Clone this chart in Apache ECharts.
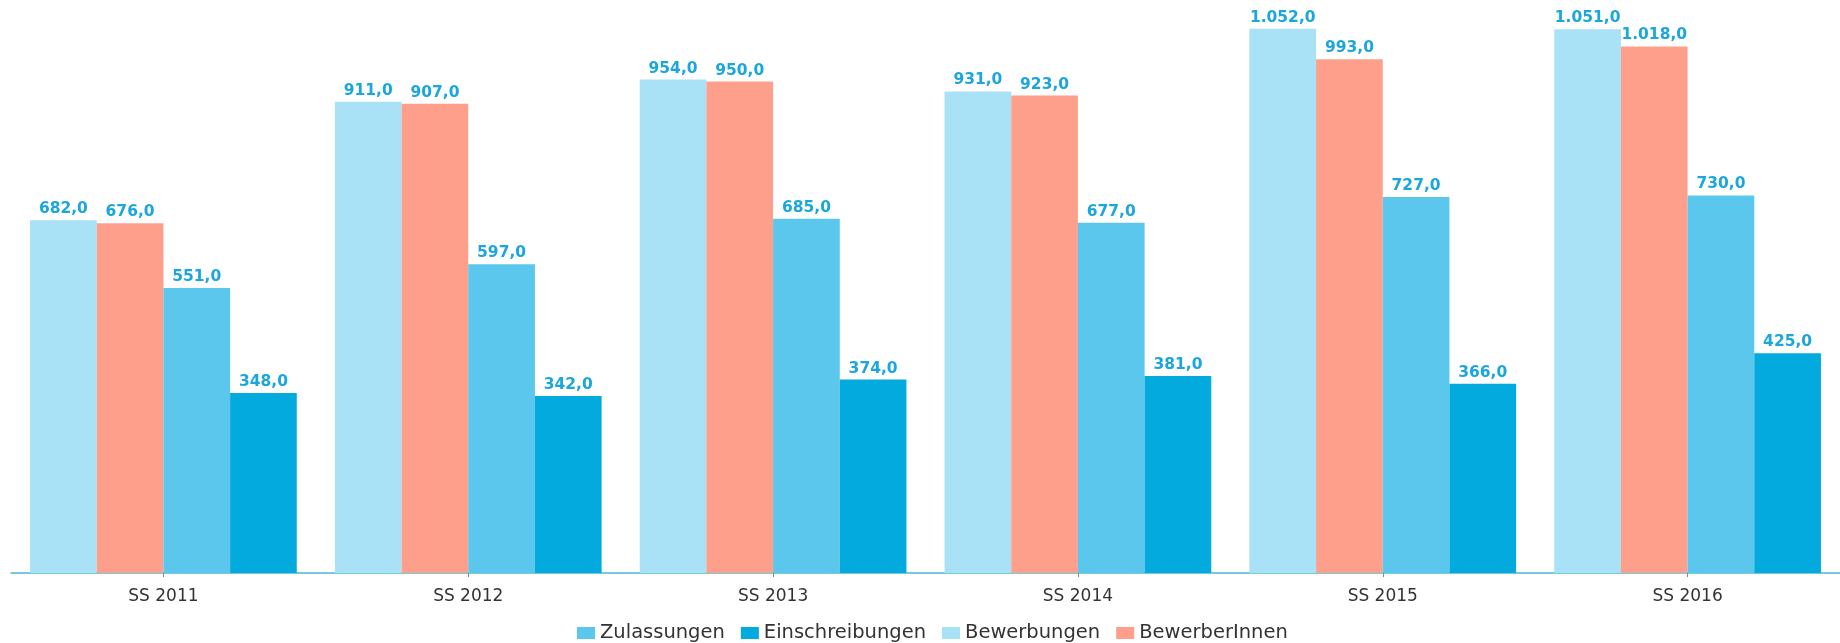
<!DOCTYPE html>
<html>
<head>
<meta charset="utf-8">
<script src="https://cdn.jsdelivr.net/npm/echarts@6/dist/echarts.min.js"></script>
<style>
html,body{margin:0;padding:0;background:#fff;}
#chart{width:1840px;height:643px;}
</style>
</head>
<body>
<div id="chart"></div>
<script>
const categories = ['SS 2011', 'SS 2012', 'SS 2013', 'SS 2014', 'SS 2015', 'SS 2016'];
const bewerbungen = [682, 911, 954, 931, 1052, 1051];
const bewerberInnen = [676, 907, 950, 923, 993, 1018];
const zulassungen = [551, 597, 685, 677, 727, 730];
const einschreibungen = [348, 342, 374, 381, 366, 425];
const legendOrder = ['Zulassungen', 'Einschreibungen', 'Bewerbungen', 'BewerberInnen'];

function fmt(v) {
  const s = Math.round(v).toString();
  const withDots = s.replace(/\B(?=(\d{3})+(?!\d))/g, '.');
  return withDots + ',0';
}

const labelStyle = {
  show: true,
  position: 'top',
  distance: 3,
  color: '#1ba6de',
  fontFamily: 'DejaVu Sans',
  fontWeight: 'bold',
  fontSize: 15.5,
  formatter: p => fmt(p.value)
};

function bar(name, data, color) {
  return {
    name: name,
    type: 'bar',
    data: data,
    barGap: '0%',
    barCategoryGap: '12.5%',
    itemStyle: { color: color },
    label: labelStyle,
    emphasis: { disabled: true }
  };
}

const chart = echarts.init(document.getElementById('chart'));
chart.setOption({
  animation: false,
  backgroundColor: '#ffffff',
  grid: { left: 11, right: -9, top: 4, bottom: 70, containLabel: false },
  legend: {
    data: legendOrder,
    left: 572,
    top: 618,
    itemWidth: 18,
    itemHeight: 12,
    itemGap: 16,
    icon: 'rect',
    textStyle: { fontFamily: 'DejaVu Sans', fontSize: 19.5, color: '#333333' }
  },
  xAxis: {
    type: 'category',
    data: categories,
    axisLine: { show: true, lineStyle: { color: '#4cb6d6', width: 1.5 } },
    axisTick: { show: true, alignWithLabel: true, length: 4, lineStyle: { color: '#888888' } },
    axisLabel: { margin: 15, fontFamily: 'DejaVu Sans', fontSize: 17, color: '#333333' }
  },
  yAxis: {
    type: 'value',
    min: 0,
    max: 1100,
    show: false,
    splitLine: { show: false }
  },
  series: [
    bar('Bewerbungen', bewerbungen, '#a9e1f6'),
    bar('BewerberInnen', bewerberInnen, '#fe9f8c'),
    bar('Zulassungen', zulassungen, '#5cc7ec'),
    bar('Einschreibungen', einschreibungen, '#03aadd')
  ]
});
</script>
</body>
</html>
